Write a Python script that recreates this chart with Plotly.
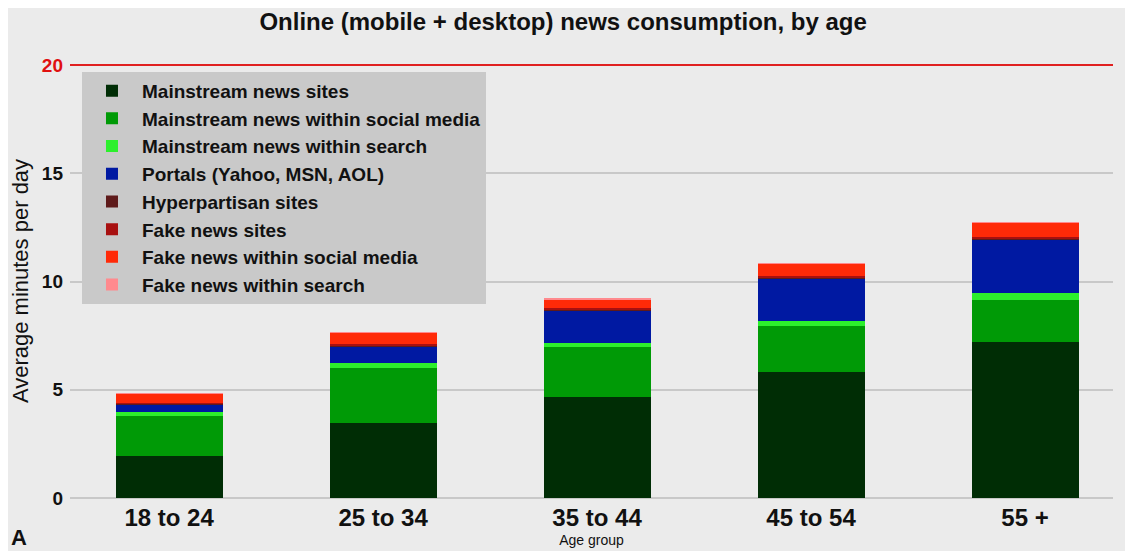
import plotly.graph_objects as go

# values (minutes per day)
age_groups = ["18 to 24", "25 to 34", "35 to 44", "45 to 54", "55 +"]
mainstream_sites = [1.94, 3.46, 4.65, 5.81, 7.19]
mainstream_social = [1.84, 2.53, 2.31, 2.12, 1.98]
mainstream_search = [0.18, 0.23, 0.18, 0.27, 0.28]
portals = [0.37, 0.78, 1.52, 1.94, 2.49]
hyperpartisan = [0.04, 0.05, 0.05, 0.05, 0.06]
fake_sites = [0.04, 0.05, 0.05, 0.05, 0.06]
fake_social = [0.42, 0.54, 0.43, 0.58, 0.65]
fake_search = [0.01, 0.01, 0.01, 0.01, 0.01]
y_ticks = [0, 5, 10, 15, 20]

series = [
    ("Mainstream news sites", mainstream_sites, "#002d05"),
    ("Mainstream news within social media", mainstream_social, "#009a06"),
    ("Mainstream news within search", mainstream_search, "#2cf02c"),
    ("Portals (Yahoo, MSN, AOL)", portals, "#0019a2"),
    ("Hyperpartisan sites", hyperpartisan, "#5e1a1a"),
    ("Fake news sites", fake_sites, "#a81010"),
    ("Fake news within social media", fake_social, "#ff2a08"),
    ("Fake news within search", fake_search, "#ff8a8e"),
]

bg = "#ebebeb"
font = "Liberation Sans, Arial, sans-serif"

fig = go.Figure()
for name, vals, col in series:
    fig.add_trace(go.Bar(x=age_groups, y=vals, name="<b>" + name + "</b>",
                         marker_color=col, marker_line_width=0, width=0.5))

ticktext = ["<b>%d</b>" % v for v in y_ticks[:-1]] + ["<b><span style='color:#e01010'>20</span></b>"]

# page body has an 8px margin, so the figure is a bit smaller than the window
fig.update_layout(
    barmode="stack",
    width=1117, height=543,
    paper_bgcolor=bg, plot_bgcolor=bg,
    margin=dict(l=62, r=12, t=56, b=53),
    font=dict(family=font, color="#111111"),
    title=dict(text="<b>Online (mobile + desktop) news consumption, by age</b>",
               x=0.497, xanchor="center", y=0.975, yanchor="middle",
               font=dict(size=24, color="#111111")),
    legend=dict(x=0.0115, y=0.982, xanchor="left", yanchor="top",
                bgcolor="#c9c9c9", traceorder="normal",
                font=dict(size=19, color="#111111"),
                itemwidth=50, tracegroupgap=0),
    showlegend=True,
)
fig.update_xaxes(range=[-0.463, 4.411], showgrid=False, ticks="",
                 tickfont=dict(size=24, color="#111111"),
                 tickprefix="<b>", ticksuffix="</b>", ticklabelstandoff=3,
                 automargin=False,
                 title=dict(text="Age group", font=dict(size=14), standoff=5))
fig.update_yaxes(range=[0, 20.05], tickvals=y_ticks, ticktext=ticktext,
                 tickfont=dict(size=19, color="#111111"),
                 showgrid=True, gridcolor="#c8c8c8", gridwidth=2,
                 zeroline=True, zerolinecolor="#c8c8c8", zerolinewidth=2,
                 ticks="", ticklen=0, ticklabelstandoff=6, automargin=False,
                 title=dict(text="Average minutes per day", font=dict(size=22), standoff=8))

# red line at 20
fig.add_hline(y=20, line_color="#e02020", line_width=2)

# panel letter
fig.add_annotation(text="<b>A</b>", x=0, y=0, xref="paper", yref="paper",
                   xanchor="left", yanchor="bottom", showarrow=False,
                   font=dict(size=22, color="#111111"), xshift=-61, yshift=-54)

fig.write_html("out.html")
